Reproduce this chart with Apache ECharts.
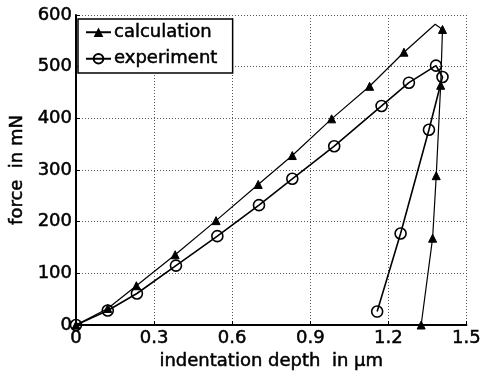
<!DOCTYPE html>
<html><head><meta charset="utf-8">
<script src="https://cdn.jsdelivr.net/npm/echarts@6/dist/echarts.min.js"></script>
<style>html,body{margin:0;padding:0;background:#fff}#c{width:484px;height:376px}</style>
</head><body><div id="c"></div>
<script>
var xTicks = [0, 0.3, 0.6, 0.9, 1.2, 1.5];
var yTicks = [0, 100, 200, 300, 400, 500, 600];
var calcDepth = [0, 0.122, 0.232, 0.381, 0.538, 0.700, 0.831, 0.982, 1.128, 1.260, 1.380, 1.408, 1.401, 1.384, 1.370, 1.326];
var calcForce = [0, 32, 76, 136, 202, 272, 328, 399, 462, 528, 582, 572, 464, 289, 168, 0];
var calcMarked = [1, 1, 1, 1, 1, 1, 1, 1, 1, 1, 0, 1, 1, 1, 1, 1];
var expDepth = [0, 0.122, 0.234, 0.384, 0.543, 0.703, 0.831, 0.992, 1.174, 1.279, 1.383, 1.408, 1.356, 1.247, 1.157];
var expForce = [0, 28, 61, 115, 172, 232, 283, 346, 424, 469, 502, 480, 378, 177, 26];

var font = '"DejaVu Sans", sans-serif';
var txt = {fontFamily: font, fontSize: 18, color: '#000', textBorderColor: '#000', textBorderWidth: 0.5};
var chart = echarts.init(document.getElementById('c'), null, {renderer: 'canvas'});
function pts(xs, ys, marks) {
  return xs.map(function (x, i) {
    var d = {value: [x, ys[i]]};
    if (marks && !marks[i]) { d.symbol = 'none'; }
    return d;
  });
}
chart.setOption({
  animation: false,
  backgroundColor: '#fff',
  grid: {left: 74, right: 14, top: 15, bottom: 51, containLabel: false},
  legend: {
    orient: 'vertical', left: 78, top: 19,
    backgroundColor: '#fff', borderColor: '#000', borderWidth: 1.5, borderRadius: 0,
    padding: [4, 15, 5, 7], itemGap: 8, itemWidth: 25, itemHeight: 12,
    textStyle: Object.assign({}, txt, {padding: [0, 0, 0, -2]}),
    data: ['calculation', 'experiment']
  },
  xAxis: {
    type: 'value', min: 0, max: 1.5, interval: 0.3,
    name: 'indentation depth  in \u00b5m', nameLocation: 'middle', nameGap: 25,
    nameTextStyle: txt,
    axisLine: {show: true, lineStyle: {color: '#000', width: 2}},
    axisTick: {show: true, inside: true, length: 4, lineStyle: {color: '#000'}},
    axisLabel: Object.assign({}, txt, {margin: 4,
      formatter: function (v) { return xTicks.indexOf(+v.toFixed(1)) >= 0 ? String(+v.toFixed(1)) : ''; }}),
    splitLine: {show: true, lineStyle: {color: '#555', type: [1, 2], width: 1}}
  },
  yAxis: {
    type: 'value', min: 0, max: 600, interval: 100,
    name: 'force  in mN', nameLocation: 'middle', nameGap: 47,
    nameTextStyle: txt,
    axisLine: {show: true, lineStyle: {color: '#000', width: 2}},
    axisTick: {show: true, inside: true, length: 4, lineStyle: {color: '#000'}},
    axisLabel: Object.assign({}, txt, {margin: 4,
      formatter: function (v) { return yTicks.indexOf(v) >= 0 ? String(v) : ''; }}),
    splitLine: {show: true, lineStyle: {color: '#555', type: [1, 2], width: 1}}
  },
  series: [
    {
      name: 'calculation', type: 'line', data: pts(calcDepth, calcForce, calcMarked),
      symbol: 'triangle', symbolSize: 8, showAllSymbol: true,
      lineStyle: {color: '#000', width: 1.2}, itemStyle: {color: '#000', borderColor: '#000'}
    },
    {
      name: 'experiment', type: 'line', data: pts(expDepth, expForce),
      symbol: 'circle', symbolSize: 11, showAllSymbol: true,
      lineStyle: {color: '#000', width: 1.6}, itemStyle: {color: 'rgba(255,255,255,0)', borderColor: '#000', borderWidth: 1.6}
    }
  ]
});
</script></body></html>
